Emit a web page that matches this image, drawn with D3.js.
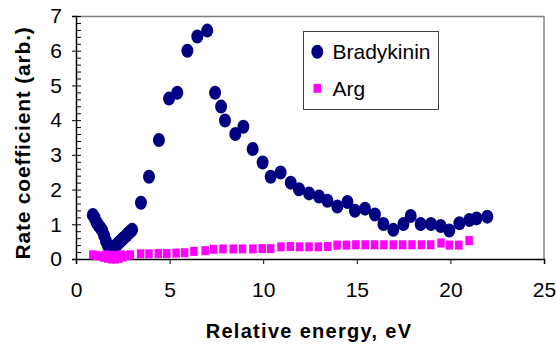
<!DOCTYPE html>
<html><head><meta charset="utf-8">
<script src="https://cdn.jsdelivr.net/npm/d3@7"></script>
<style>
body{margin:0;background:#fff;}
svg{display:block;font-family:"Liberation Sans",Arial,sans-serif;}
</style></head>
<body><svg id="c" width="556" height="344"></svg>
<script>
// Bradykinin series
const bradyX = [0.9,1.0,1.1,1.2,1.3,1.4,1.5,1.6,1.7,1.8,1.9,2.0,2.1,2.2,2.3,2.4,2.5,2.6,2.7,2.8,2.9,3.0,
  3.47,3.9,4.43,4.97,5.41,5.95,6.48,7.01,7.43,7.75,7.96,8.51,8.94,9.44,9.97,10.4,10.93,11.47,11.91,12.45,12.98,13.43,13.96,14.5,14.9,15.44,15.97,16.42,16.95,17.49,17.88,18.41,18.96,19.48,19.94,20.48,21.01,21.4,21.97];
const bradyY = [1.27,1.18,1.05,0.97,0.9,0.82,0.68,0.52,0.4,0.3,0.25,0.3,0.36,0.42,0.48,0.53,0.58,0.63,0.68,0.74,0.79,0.84,
  1.62,2.37,3.43,4.62,4.79,6.0,6.41,6.58,4.79,4.39,3.99,3.6,3.81,3.17,2.78,2.37,2.49,2.2,2.01,1.89,1.8,1.68,1.51,1.64,1.39,1.45,1.28,1.01,0.84,1.01,1.24,1.01,1.01,0.95,0.82,1.03,1.12,1.17,1.22];
// Arg series
const argX = [0.9,1.1,1.3,1.5,1.6,1.7,1.9,2.0,2.1,2.3,2.4,2.5,2.7,2.9,
  3.45,3.9,4.4,4.85,5.35,5.8,6.3,6.9,7.35,7.85,8.4,8.9,9.45,9.95,10.4,10.95,11.45,11.95,12.45,12.95,13.45,13.95,14.45,14.95,15.45,15.95,16.45,16.95,17.45,17.95,18.45,18.95,19.5,19.95,20.45,21.0];
const argY = [0.12,0.1,0.08,0.05,0.12,0.02,0.0,0.1,0.0,0.02,0.12,0.06,0.1,0.12,
  0.15,0.15,0.16,0.16,0.17,0.18,0.22,0.24,0.28,0.29,0.29,0.29,0.29,0.3,0.3,0.35,0.36,0.35,0.35,0.35,0.36,0.4,0.4,0.41,0.41,0.41,0.41,0.41,0.41,0.41,0.41,0.41,0.46,0.4,0.4,0.53];
const xTicks = [0,5,10,15,20,25];
const yTicks = [0,1,2,3,4,5,6,7];
const seriesNames = ["Bradykinin","Arg"];
const xTitle = "Relative energy, eV";
const yTitle = "Rate coefficient (arb.)";

const svg = d3.select("#c");
const L=76, T=16, R=544, B=259;
const x = d3.scaleLinear().domain([0,25]).range([L,R]);
const y = d3.scaleLinear().domain([0,7]).range([B,T]);

// frame
svg.append("line").attr("x1",L).attr("x2",R).attr("y1",T+0.5).attr("y2",T+0.5).attr("stroke","#808080").attr("stroke-width",1.5);
svg.append("line").attr("x1",R).attr("x2",R).attr("y1",T).attr("y2",B).attr("stroke","#808080").attr("stroke-width",1.5);

// minor y ticks
const minor = d3.range(0,7.001,0.2).map(v=>+v.toFixed(1));
svg.append("g").attr("transform",`translate(${L},0)`)
  .call(d3.axisLeft(y).tickValues(minor).tickSize(-5).tickFormat(""))
  .call(g=>g.select(".domain").remove())
  .call(g=>g.selectAll("line").attr("stroke","#000"));

const ya = svg.append("g").attr("transform",`translate(${L},0)`)
  .call(d3.axisLeft(y).tickValues(yTicks).tickSize(4).tickPadding(10).tickFormat(d3.format("d")));
ya.select(".domain").attr("stroke","#000").attr("stroke-width",1.5);
ya.selectAll("text").attr("font-size",21).attr("font-family","Liberation Sans, Arial").attr("fill","#000");

const xa = svg.append("g").attr("transform",`translate(0,${B})`)
  .call(d3.axisBottom(x).tickValues(xTicks).tickSize(5).tickPadding(18).tickFormat(d3.format("d")));
xa.select(".domain").attr("stroke","#000").attr("stroke-width",1.5);
xa.selectAll("text").attr("font-size",21).attr("font-family","Liberation Sans, Arial").attr("fill","#000");

// titles
svg.append("text").attr("x",309).attr("y",338).attr("text-anchor","middle")
  .attr("font-size",20).attr("font-weight","bold").attr("letter-spacing",1.3).text(xTitle);
svg.append("text").attr("transform","translate(30,143) rotate(-90)").attr("text-anchor","middle")
  .attr("font-size",21).attr("font-weight","bold").attr("letter-spacing",0.8).text(yTitle);

// data
const brady = bradyX.map((v,i)=>[v,bradyY[i]]);
const arg = argX.map((v,i)=>[v,argY[i]]);
svg.append("g").selectAll("ellipse").data(brady).join("ellipse")
  .attr("cx",d=>x(d[0])).attr("cy",d=>y(d[1])).attr("rx",6).attr("ry",7).attr("fill","#000080");
svg.append("g").selectAll("rect").data(arg).join("rect")
  .attr("x",d=>x(d[0])-3.75).attr("y",d=>y(d[1])-4.5).attr("width",7.5).attr("height",9).attr("fill","#FF00FF");

// legend
const lg = svg.append("g");
lg.append("rect").attr("x",303.5).attr("y",31.5).attr("width",135).attr("height",78).attr("fill","#fff").attr("stroke","#404040").attr("stroke-width",1);
lg.append("ellipse").attr("cx",317.3).attr("cy",51.7).attr("rx",6).attr("ry",7).attr("fill","#000080");
lg.append("rect").attr("x",317.3-3.75).attr("y",88.3-4.5).attr("width",7.5).attr("height",9).attr("fill","#FF00FF");
lg.append("text").attr("x",332.5).attr("y",58.5).attr("font-size",21).text(seriesNames[0]);
lg.append("text").attr("x",332.5).attr("y",95.5).attr("font-size",21).text(seriesNames[1]);
</script></body></html>
